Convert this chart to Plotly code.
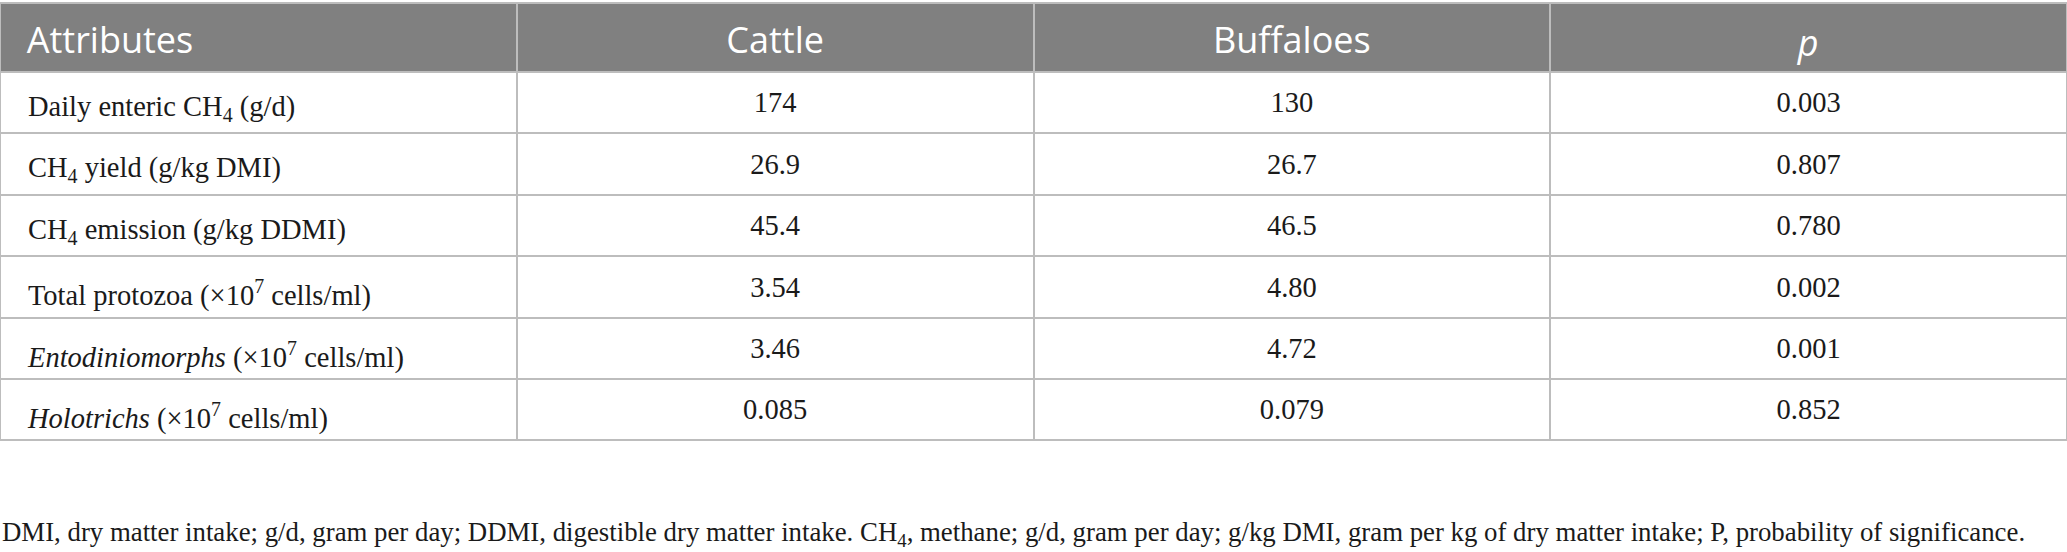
import plotly.graph_objects as go

header = ["Attributes", "Cattle", "Buffaloes", "<i>p</i>"]
attributes = [
    "Daily enteric CH<sub>4</sub> (g/d)",
    "CH<sub>4</sub> yield (g/kg DMI)",
    "CH<sub>4</sub> emission (g/kg DDMI)",
    "Total protozoa (×10<sup>7</sup> cells/ml)",
    "<i>Entodiniomorphs</i> (×10<sup>7</sup> cells/ml)",
    "<i>Holotrichs</i> (×10<sup>7</sup> cells/ml)",
]
cattle = ["174", "26.9", "45.4", "3.54", "3.46", "0.085"]
buffaloes = ["130", "26.7", "46.5", "4.80", "4.72", "0.079"]
p_values = ["0.003", "0.807", "0.780", "0.002", "0.001", "0.852"]
footnote = ("DMI, dry matter intake; g/d, gram per day; DDMI, digestible dry matter intake. "
            "CH<sub>4</sub>, methane; g/d, gram per day; g/kg DMI, gram per kg of dry matter intake; "
            "P, probability of significance.")

W, H = 2067, 552
LINE = "#bdbdbd"
HEAD = "#808080"

first_col = ["\u00a0\u00a0\u2009" + a for a in attributes]
head_cells = ["\u00a0\u00a0" + header[0]] + header[1:]

fig = go.Figure(go.Table(
    domain=dict(x=[0, 1], y=[0, 1 - 3 / H]),
    columnwidth=[1, 1, 1, 1],
    header=dict(
        values=head_cells,
        fill_color=HEAD,
        line=dict(color=LINE, width=2),
        align=["left", "center", "center", "center"],
        font=dict(family="Open Sans", size=36, color="white"),
        height=69,
    ),
    cells=dict(
        values=[first_col, cattle, buffaloes, p_values],
        fill_color="white",
        line=dict(color=LINE, width=2),
        align=["left", "center", "center", "center"],
        font=dict(family="Liberation Serif", size=28.5, color="#1a1a1a"),
        height=61.4,
    ),
))

fig.add_annotation(
    x=0, y=1 - 534 / H, xref="paper", yref="paper",
    xanchor="left", yanchor="middle", showarrow=False,
    text=footnote, align="left",
    font=dict(family="Liberation Serif", size=26.8, color="#1a1a1a"),
)

fig.update_layout(
    width=W, height=H,
    margin=dict(l=0, r=0, t=0, b=0),
    paper_bgcolor="white", plot_bgcolor="white",
)

post = """
(function(){
  document.body.style.margin = '0';
  function fix(){
    var gd = document.getElementById('{plot_id}');
    if(!gd) return;
    var top = gd.getBoundingClientRect().top;
    gd.querySelectorAll('text.cell-text').forEach(function(t){
      if(t.parentNode.getAttribute('data-shift')) return;
      var r = t.getBoundingClientRect();
      var isHead = (r.top - top) < 70;
      var isP = isHead && t.textContent.trim() === 'p';
      var dy = isHead ? (isP ? 7 : 15) : 11;
      var g = document.createElementNS('http://www.w3.org/2000/svg', 'g');
      g.setAttribute('transform', 'translate(0,' + dy + ')');
      g.setAttribute('data-shift', '1');
      t.parentNode.insertBefore(g, t);
      g.appendChild(t);
    });
  }
  fix(); setTimeout(fix, 50); setTimeout(fix, 300);
})();
"""

fig.write_html("out.html", post_script=post, config={"displayModeBar": False})
